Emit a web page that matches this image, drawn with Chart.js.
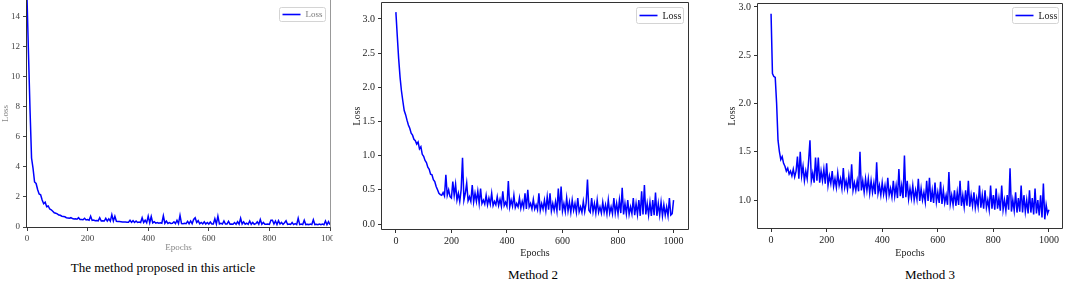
<!DOCTYPE html>
<html>
<head>
<meta charset="utf-8">
<script src="https://cdn.jsdelivr.net/npm/chart.js@4.4.1/dist/chart.umd.min.js"></script>
<style>
  body { margin: 0; background: #fff; width: 1065px; height: 283px; position: relative; overflow: hidden; font-family: "Liberation Serif", serif; }
  .pane { position: absolute; top: 0; overflow: hidden; }
  .pane canvas { display: block; }
  .cap { position: absolute; font-size: 13px; color: #000; white-space: nowrap; transform: translateX(-50%); line-height: 14px; }
</style>
</head>
<body>
<div class="pane" style="left:0;width:333px;height:256px"><canvas id="c1" width="350" height="256"></canvas></div>
<div class="pane" style="left:340px;width:360px;height:262px"><canvas id="c2" width="360" height="262"></canvas></div>
<div class="pane" style="left:700px;width:365px;height:262px"><canvas id="c3" width="365" height="262"></canvas></div>
<div class="cap" style="left:163px;top:261px">The method proposed in this article</div>
<div class="cap" style="left:533px;top:268px">Method 2</div>
<div class="cap" style="left:930px;top:268px">Method 3</div>
<script>
  // ---------- Data ----------
  const epochs = [
    0, 5, 10, 15, 20, 25, 30, 35, 40, 45, 50, 55, 60, 65, 70, 75, 80, 85, 90, 95,
    100, 105, 110, 115, 120, 125, 130, 135, 140, 145, 150, 155, 160, 165, 170, 175, 180, 185, 190, 195,
    200, 205, 210, 215, 220, 225, 230, 235, 240, 245, 250, 255, 260, 265, 270, 275, 280, 285, 290, 295,
    300, 305, 310, 315, 320, 325, 330, 335, 340, 345, 350, 355, 360, 365, 370, 375, 380, 385, 390, 395,
    400, 405, 410, 415, 420, 425, 430, 435, 440, 445, 450, 455, 460, 465, 470, 475, 480, 485, 490, 495,
    500, 505, 510, 515, 520, 525, 530, 535, 540, 545, 550, 555, 560, 565, 570, 575, 580, 585, 590, 595,
    600, 605, 610, 615, 620, 625, 630, 635, 640, 645, 650, 655, 660, 665, 670, 675, 680, 685, 690, 695,
    700, 705, 710, 715, 720, 725, 730, 735, 740, 745, 750, 755, 760, 765, 770, 775, 780, 785, 790, 795,
    800, 805, 810, 815, 820, 825, 830, 835, 840, 845, 850, 855, 860, 865, 870, 875, 880, 885, 890, 895,
    900, 905, 910, 915, 920, 925, 930, 935, 940, 945, 950, 955, 960, 965, 970, 975, 980, 985, 990, 995,
    1000
  ];

  // the method proposed in this article
  const lossProposed = [
    15.3, 11.5, 7.8, 4.6, 3.9, 3.0, 2.9, 2.5, 2.2, 2.15, 1.8, 1.55, 1.65, 1.35, 1.4, 1.2, 1.15, 1.05, 0.95, 0.92,
    0.88, 0.8, 0.78, 0.72, 0.7, 0.68, 0.62, 0.6, 0.58, 0.62, 0.56, 0.54, 0.55, 0.52, 0.62, 0.5, 0.5, 0.48, 0.58, 0.47,
    0.5, 0.45, 0.72, 0.44, 0.46, 0.42, 0.43, 0.41, 0.62, 0.4, 0.42, 0.4, 0.58, 0.4, 0.55, 0.39, 0.82, 0.4, 0.72, 0.38,
    0.37, 0.36, 0.35, 0.34, 0.33, 0.33, 0.32, 0.32, 0.45, 0.31, 0.42, 0.3, 0.4, 0.3, 0.33, 0.3, 0.62, 0.3, 0.45, 0.28,
    0.72, 0.28, 0.7, 0.27, 0.35, 0.26, 0.3, 0.25, 0.28, 0.25, 0.75, 0.25, 0.4, 0.24, 0.3, 0.24, 0.25, 0.35, 0.23, 0.45,
    0.23, 0.78, 0.23, 0.22, 0.25, 0.22, 0.38, 0.22, 0.4, 0.22, 0.5, 0.62, 0.3, 0.42, 0.21, 0.3, 0.21, 0.35, 0.2, 0.3,
    0.2, 0.33, 0.2, 0.2, 0.55, 0.2, 0.72, 0.2, 0.25, 0.2, 0.4, 0.2, 0.2, 0.38, 0.19, 0.2, 0.19, 0.3, 0.19, 0.35,
    0.19, 0.58, 0.2, 0.35, 0.19, 0.25, 0.18, 0.4, 0.18, 0.3, 0.18, 0.22, 0.35, 0.18, 0.5, 0.18, 0.3, 0.18, 0.18, 0.2,
    0.17, 0.45, 0.45, 0.2, 0.4, 0.17, 0.42, 0.2, 0.3, 0.17, 0.28, 0.42, 0.17, 0.2, 0.17, 0.3, 0.16, 0.22, 0.16, 0.58,
    0.16, 0.2, 0.16, 0.45, 0.16, 0.18, 0.16, 0.2, 0.16, 0.48, 0.16, 0.18, 0.15, 0.2, 0.15, 0.2, 0.15, 0.4, 0.15, 0.35,
    0.15
  ];

  // Method 2
  const lossMethod2 = [
    3.1, 2.75, 2.42, 2.15, 1.95, 1.8, 1.66, 1.6, 1.52, 1.45, 1.4, 1.33, 1.3, 1.24, 1.22, 1.17, 1.2, 1.1, 1.13, 1.02,
    0.99, 0.93, 0.9, 0.83, 0.8, 0.73, 0.72, 0.65, 0.62, 0.55, 0.5, 0.45, 0.43, 0.42, 0.46, 0.41, 0.72, 0.42, 0.5, 0.4,
    0.38, 0.62, 0.42, 0.58, 0.35, 0.45, 0.33, 0.5, 0.97, 0.35, 0.45, 0.6, 0.34, 0.4, 0.33, 0.57, 0.32, 0.45, 0.33, 0.48,
    0.3, 0.52, 0.3, 0.35, 0.29, 0.42, 0.28, 0.38, 0.29, 0.45, 0.27, 0.33, 0.28, 0.4, 0.27, 0.36, 0.26, 0.48, 0.27, 0.32,
    0.26, 0.63, 0.25, 0.35, 0.26, 0.42, 0.24, 0.3, 0.25, 0.38, 0.23, 0.33, 0.24, 0.45, 0.22, 0.5, 0.25, 0.3, 0.22, 0.36,
    0.22, 0.28, 0.21, 0.45, 0.2, 0.3, 0.22, 0.35, 0.2, 0.4, 0.21, 0.45, 0.19, 0.3, 0.2, 0.33, 0.19, 0.52, 0.2, 0.55,
    0.19, 0.3, 0.18, 0.38, 0.19, 0.32, 0.17, 0.35, 0.2, 0.3, 0.17, 0.38, 0.18, 0.25, 0.17, 0.33, 0.18, 0.3, 0.65, 0.2,
    0.17, 0.38, 0.18, 0.3, 0.16, 0.35, 0.17, 0.25, 0.16, 0.32, 0.17, 0.28, 0.15, 0.35, 0.16, 0.25, 0.15, 0.38, 0.16, 0.3,
    0.15, 0.35, 0.16, 0.53, 0.14, 0.3, 0.15, 0.35, 0.14, 0.25, 0.15, 0.38, 0.13, 0.3, 0.14, 0.35, 0.12, 0.48, 0.14, 0.57,
    0.14, 0.3, 0.13, 0.32, 0.12, 0.35, 0.13, 0.46, 0.12, 0.3, 0.13, 0.32, 0.12, 0.28, 0.13, 0.25, 0.12, 0.38, 0.13, 0.15,
    0.35
  ];

  // Method 3
  const lossMethod3 = [
    2.93, 2.31, 2.28, 2.27, 2.0, 1.62, 1.5, 1.42, 1.45, 1.38, 1.35, 1.3, 1.33, 1.27, 1.3, 1.25, 1.32, 1.24, 1.3, 1.45,
    1.22, 1.5, 1.25, 1.35, 1.2, 1.3, 1.22, 1.4, 1.62, 1.2, 1.28, 1.18, 1.44, 1.2, 1.44, 1.18, 1.3, 1.2, 1.32, 1.17,
    1.38, 1.15, 1.25, 1.17, 1.3, 1.14, 1.22, 1.13, 1.28, 1.15, 1.22, 1.12, 1.33, 1.13, 1.2, 1.11, 1.25, 1.12, 1.37, 1.1,
    1.18, 1.1, 1.2, 1.09, 1.5, 1.1, 1.2, 1.08, 1.22, 1.1, 1.22, 1.07, 1.2, 1.08, 1.18, 1.06, 1.39, 1.07, 1.15, 1.05,
    1.18, 1.06, 1.15, 1.04, 1.23, 1.05, 1.12, 1.03, 1.2, 1.04, 1.15, 1.02, 1.32, 1.04, 1.15, 1.02, 1.46, 1.03, 1.2, 1.01,
    1.12, 1.02, 1.15, 1.0, 1.1, 1.01, 1.22, 0.99, 1.12, 1.0, 1.08, 0.98, 1.2, 0.99, 1.23, 0.98, 1.1, 0.97, 1.18, 0.98,
    1.08, 0.97, 1.19, 0.96, 1.1, 0.97, 1.05, 0.95, 1.29, 0.96, 1.05, 0.95, 1.1, 0.94, 1.08, 0.95, 1.2, 0.94, 1.05, 0.93,
    1.1, 0.94, 1.2, 0.93, 1.05, 0.94, 1.08, 0.92, 1.02, 0.93, 1.15, 0.92, 1.05, 0.91, 1.1, 0.92, 1.0, 0.9, 1.15, 0.91,
    1.05, 0.9, 1.12, 0.91, 1.02, 0.89, 1.15, 0.9, 1.0, 0.89, 1.05, 0.9, 1.33, 0.88, 1.0, 0.89, 1.08, 0.87, 1.02, 0.88,
    1.15, 0.87, 1.05, 0.88, 1.0, 0.86, 1.1, 0.87, 1.02, 0.85, 1.12, 0.86, 1.0, 0.84, 1.05, 0.82, 1.17, 0.8, 0.95, 0.86,
    0.9
  ];

  const epochTicks = [0, 200, 400, 600, 800, 1000];
  const yTicksProposed = [0, 2, 4, 6, 8, 10, 12, 14];
  const yTicksMethod2 = [0, 0.5, 1.0, 1.5, 2.0, 2.5, 3.0];
  const yTicksMethod3 = [1.0, 1.5, 2.0, 2.5, 3.0];

  const SERIF = "'Liberation Serif', 'Times New Roman', serif";

  // ---------- Plugins ----------
  // axes box (matplotlib spines)
  function spines(c) {
    return {
      id: 'spines',
      afterDraw(chart) {
        const { ctx, chartArea: a } = chart;
        const L = Math.round(a.left) - 0.5, R = Math.round(a.right) + 0.5;
        const T = Math.round(a.top) - 0.5, B = Math.round(a.bottom) + 0.5;
        ctx.save();
        ctx.lineWidth = 1;
        const side = (col, x1, y1, x2, y2) => {
          if (!col) return;
          ctx.strokeStyle = col;
          ctx.beginPath(); ctx.moveTo(x1, y1); ctx.lineTo(x2, y2); ctx.stroke();
        };
        side(c.top, L, T, R, T);
        side(c.right, R, T, R, B);
        side(c.bottom, L, B, R, B);
        side(c.left, L, T, L, B);
        ctx.restore();
      }
    };
  }

  // framed legend in the upper right corner
  function lossBox(b) {
    return {
      id: 'lossBox',
      afterDraw(chart) {
        const { ctx, chartArea: a } = chart;
        const ds = chart.data.datasets[0];
        const x = Math.round(a.right - b.right - b.w) + 0.5;
        const y = Math.round(a.top + b.top) + 0.5;
        ctx.save();
        ctx.fillStyle = 'rgba(255,255,255,0.85)';
        ctx.strokeStyle = '#d4d4d4';
        ctx.lineWidth = 1;
        ctx.beginPath();
        ctx.roundRect(x, y, b.w, b.h, 2);
        ctx.fill(); ctx.stroke();
        ctx.strokeStyle = ds.borderColor;
        ctx.lineWidth = 1.6;
        ctx.beginPath();
        ctx.moveTo(x + 3, y + b.h / 2); ctx.lineTo(x + 21, y + b.h / 2);
        ctx.stroke();
        ctx.fillStyle = b.color;
        ctx.font = b.size + 'px ' + SERIF;
        ctx.textBaseline = 'middle';
        ctx.fillText(ds.label, x + 26, y + b.h / 2 + 0.5);
        ctx.restore();
      }
    };
  }

  // ---------- Chart ----------
  function makeChart(id, cfg) {
    const tickFont = { family: SERIF, size: cfg.fs };
    return new Chart(document.getElementById(id), {
      type: 'line',
      data: {
        datasets: [{
          label: 'Loss',
          data: epochs.map((e, i) => ({ x: e, y: cfg.values[i] })),
          borderColor: '#0000ff',
          borderWidth: 1.5,
          pointRadius: 0,
          tension: 0,
          fill: false
        }]
      },
      options: {
        responsive: false,
        animation: false,
        devicePixelRatio: 1,
        layout: { padding: cfg.pad },
        plugins: { legend: { display: false }, tooltip: { enabled: false } },
        scales: {
          x: {
            type: 'linear',
            min: cfg.x[0], max: cfg.x[1],
            afterBuildTicks: s => { s.ticks = epochTicks.map(v => ({ value: v })); },
            afterFit: s => { s.height = cfg.xH; s.paddingLeft = 0; s.paddingRight = 0; },
            grid: { display: true, drawOnChartArea: false, drawTicks: true, tickLength: 4, tickColor: cfg.tickCol },
            border: { display: false },
            ticks: { font: tickFont, color: cfg.labCol, padding: cfg.xPad, maxRotation: 0, autoSkip: false, callback: v => String(v) },
            title: { display: true, text: 'Epochs', font: tickFont, color: cfg.titleCol, padding: { top: 0, bottom: cfg.xTitlePad } }
          },
          y: {
            type: 'linear',
            min: cfg.y[0], max: cfg.y[1],
            afterBuildTicks: s => { s.ticks = cfg.yTicks.map(v => ({ value: v })); },
            afterFit: s => { s.width = cfg.yW; s.paddingTop = 0; s.paddingBottom = 0; },
            grid: { display: true, drawOnChartArea: false, drawTicks: true, tickLength: 4, tickColor: cfg.tickCol },
            border: { display: false },
            ticks: { font: tickFont, color: cfg.labCol, padding: 3, autoSkip: false, callback: cfg.fmt },
            title: { display: true, text: 'Loss', font: tickFont, color: cfg.titleCol, padding: { top: cfg.yTitlePad, bottom: 0 } }
          }
        }
      },
      plugins: [spines(cfg.spines), lossBox(cfg.box)]
    });
  }

  makeChart('c1', {
    values: lossProposed, x: [0, 1000], y: [0, 15.13], yTicks: yTicksProposed,
    fmt: v => String(v), fs: 9,
    pad: { left: 0, right: 20, top: 0, bottom: 0 }, yW: 27, xH: 29,
    xPad: 2, xTitlePad: 3, yTitlePad: 0,
    labCol: '#444', titleCol: '#888', tickCol: '#444',
    spines: { left: '#333', bottom: '#333', right: '#999' },
    box: { w: 46, h: 14, right: 5, top: 7, size: 9, color: '#777' }
  });

  makeChart('c2', {
    values: lossMethod2, x: [-50, 1052], y: [-0.073, 3.234], yTicks: yTicksMethod2,
    fmt: v => v.toFixed(1), fs: 10,
    pad: { left: 0, right: 12, top: 3, bottom: 0 }, yW: 42, xH: 33,
    xPad: 2, xTitlePad: 3, yTitlePad: 11,
    labCol: '#222', titleCol: '#222', tickCol: '#333',
    spines: { left: '#333', bottom: '#333', right: '#333', top: '#333' },
    box: { w: 47, h: 16, right: 5, top: 4, size: 10, color: '#222' }
  });

  makeChart('c3', {
    values: lossMethod3, x: [-47, 1047], y: [0.71, 3.031], yTicks: yTicksMethod3,
    fmt: v => v.toFixed(1), fs: 10,
    pad: { left: 0, right: 3, top: 4, bottom: 0 }, yW: 58, xH: 34,
    xPad: 2, xTitlePad: 3, yTitlePad: 26,
    labCol: '#222', titleCol: '#222', tickCol: '#333',
    spines: { left: '#333', bottom: '#333', right: '#333', top: '#333' },
    box: { w: 46, h: 16, right: 4, top: 3, size: 10, color: '#222' }
  });
</script>
</body>
</html>
